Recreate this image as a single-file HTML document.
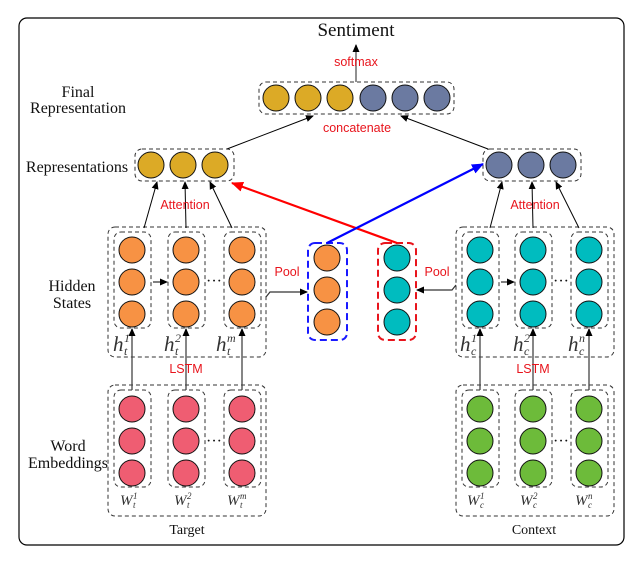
<!DOCTYPE html>
<html><head><meta charset="utf-8"><style>
html,body{margin:0;padding:0;background:#fff;}
svg{display:block;}
.s{font-family:"Liberation Serif",serif;font-size:16px;fill:#111;}
.r{font-family:"Liberation Sans",sans-serif;font-size:12.5px;fill:#e8141c;}
.m{font-family:"Liberation Serif",serif;font-style:italic;fill:#333;}
</style></head><body>
<svg id="g" width="642" height="565" viewBox="0 0 642 565" xmlns="http://www.w3.org/2000/svg">
<defs>
<marker id="a" markerWidth="8" markerHeight="8" refX="7" refY="4" orient="auto" markerUnits="userSpaceOnUse"><path d="M0,0.5 L8,4 L0,7.5 z" fill="#000"/></marker>
<marker id="ar" markerWidth="12" markerHeight="10" refX="11" refY="5" orient="auto" markerUnits="userSpaceOnUse"><path d="M0,0 L12,5 L0,10 z" fill="#f00"/></marker>
<marker id="ab" markerWidth="12" markerHeight="10" refX="11" refY="5" orient="auto" markerUnits="userSpaceOnUse"><path d="M0,0 L12,5 L0,10 z" fill="#00f"/></marker>
</defs>
<rect x="19" y="18" width="605" height="527" rx="8" fill="none" stroke="#000" stroke-width="1.2"/>
<g id="shapes"></g>
<text class="s" x="356" y="36" text-anchor="middle" style="font-size:19px">Sentiment</text>
<text class="r" x="356" y="66" text-anchor="middle">softmax</text>
<text class="r" x="357" y="132" text-anchor="middle">concatenate</text>
<text class="s" x="78" y="97" text-anchor="middle">Final</text>
<text class="s" x="78" y="113" text-anchor="middle">Representation</text>
<text class="s" x="77" y="172" text-anchor="middle">Representations</text>
<text class="s" x="72" y="291" text-anchor="middle">Hidden</text>
<text class="s" x="72" y="308" text-anchor="middle">States</text>
<text class="s" x="68" y="451" text-anchor="middle">Word</text>
<text class="s" x="68" y="468" text-anchor="middle">Embeddings</text>
<text class="r" x="185" y="209" text-anchor="middle">Attention</text>
<text class="r" x="535" y="209" text-anchor="middle">Attention</text>
<text class="r" x="287" y="276" text-anchor="middle">Pool</text>
<text class="r" x="437" y="276" text-anchor="middle">Pool</text>
<text class="r" x="186" y="373" text-anchor="middle">LSTM</text>
<text class="r" x="533" y="373" text-anchor="middle">LSTM</text>
<text class="s" x="187" y="534" text-anchor="middle" style="font-size:14px">Target</text>
<text class="s" x="534" y="534" text-anchor="middle" style="font-size:14px">Context</text>
<g id="labels"></g>
<text class="s" x="214" y="286" text-anchor="middle">···</text>
<text class="s" x="214" y="446" text-anchor="middle">···</text>
<text class="s" x="561" y="286" text-anchor="middle">···</text>
<text class="s" x="561" y="446" text-anchor="middle">···</text>
</svg>
<script>
var NS="http://www.w3.org/2000/svg",G=document.getElementById("shapes"),L=document.getElementById("labels");
function el(t,a,p){var e=document.createElementNS(NS,t);for(var k in a)e.setAttribute(k,a[k]);(p||G).appendChild(e);return e;}
function box(x,y,w,h,c,sw,da){el("rect",{x:x,y:y,width:w,height:h,rx:7,fill:"none",stroke:c||"#333","stroke-width":sw||1,"stroke-dasharray":da||"4,3"});}
function circ(cx,cy,f){el("circle",{cx:cx,cy:cy,r:13,fill:f,stroke:"#111","stroke-width":1});}
function line(x1,y1,x2,y2,c,w,m){var a={x1:x1,y1:y1,x2:x2,y2:y2,stroke:c||"#000","stroke-width":w||1};if(m!==null)a["marker-end"]="url(#"+(m||"a")+")";el("line",a);}
function txt(x,y,s,size){var e=el("text",{x:x,y:y,"class":"m","font-size":size},L);e.textContent=s;return e;}
function lab(x,y,base,sup,sub,big){
 var bs=big?21:15, ss=big?12:9, w=big?11:13;
 txt(x,y,base,bs);txt(x+w,y-(big?9:6),sup,ss);txt(x+w,y+(big?4:3),sub,ss);
}
var OR="#f79244",PK="#ef5d72",TE="#00bcbf",GR="#6dbb3a",GO="#dcaa26",SL="#6b7aa1";
function group(cxs,colH,colE){
 box(cxs[0]-24,227,158,130);box(cxs[0]-24,385,158,131);
 cxs.forEach(function(cx){
  box(cx-18,232,37,96);[250,282,314].forEach(function(y){circ(cx,y,colH);});
  box(cx-18,390,37,97);[409,441,473].forEach(function(y){circ(cx,y,colE);});
  line(cx,390,cx,329,"#444",1.3);
 });
 line(cxs[0]+21,282,cxs[1]-19,282);
}
group([132,186,242],OR,PK);
group([480,533,589],TE,GR);
lab(113,351,"h","1","t",1);lab(164,351,"h","2","t",1);lab(216,351,"h","m","t",1);
lab(460,351,"h","1","c",1);lab(513,351,"h","2","c",1);lab(568,351,"h","n","c",1);
lab(120,505,"W","1","t",0);lab(174,505,"W","2","t",0);lab(227,505,"W","m","t",0);
lab(467,505,"W","1","c",0);lab(520,505,"W","2","c",0);lab(575,505,"W","n","c",0);
box(308,243,39,97,"#1a1aff",2,"7,4");[258,290,322].forEach(function(y){circ(327,y,OR);});
box(378,243,38,97,"#e8141c",2,"7,4");[258,290,322].forEach(function(y){circ(397,y,TE);});
el("polyline",{points:"266,297 270,292 307,292",fill:"none",stroke:"#333","stroke-width":1.2,"marker-end":"url(#a)"});
el("polyline",{points:"456,285 452,290 417,290",fill:"none",stroke:"#333","stroke-width":1.2,"marker-end":"url(#a)"});
box(135,149,99,32);[151,183,215].forEach(function(x){circ(x,165,GO);});
box(483,149,98,32);[499,531,563].forEach(function(x){circ(x,165,SL);});
box(259,82,195,32);[276,308,340].forEach(function(x){circ(x,98,GO);});[373,405,437].forEach(function(x){circ(x,98,SL);});
line(144,228,157,182);line(186,228,185,182);line(232,228,210,182);
line(490,228,502,182);line(533,228,532,182);line(579,228,556,182);
line(227,149,313,116);line(488,149,401,116);
line(356,82,356,45,"#555",1.3);
line(397,243,232,183,"#f00",2.2,"ar");
line(327,243,483,164,"#00f",2.2,"ab");
</script>
</body></html>
